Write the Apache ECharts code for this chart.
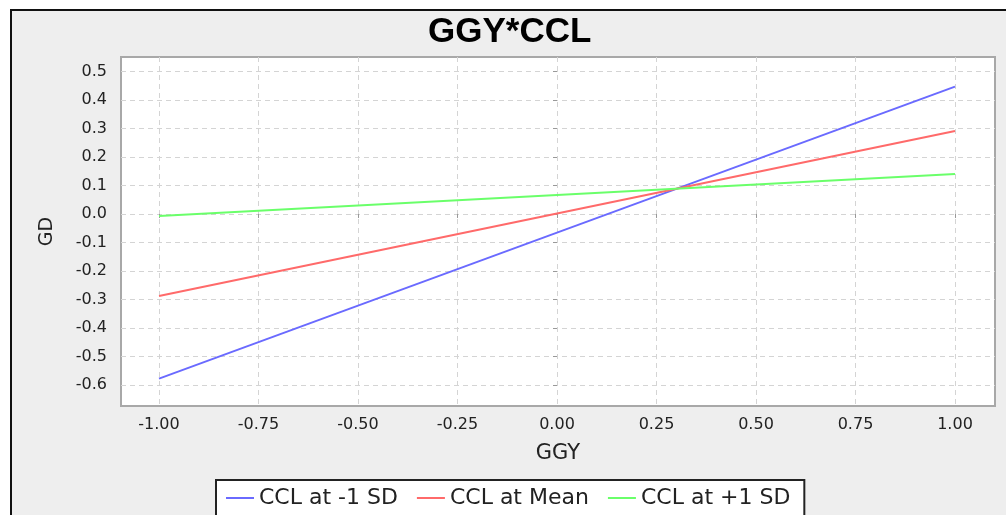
<!DOCTYPE html>
<html>
<head>
<meta charset="utf-8">
<script src="https://cdn.jsdelivr.net/npm/echarts@6/dist/echarts.min.js"></script>
<style>
  html, body { margin: 0; padding: 0; background: #fff; }
  #chart { width: 1006px; height: 515px; }
</style>
</head>
<body>
<div id="chart"></div>
<script>
// data
var ggy = [-1.0, 1.0]
var cclLow = [-0.578, 0.447]   // CCL at -1 SD
var cclMean = [-0.288, 0.291]  // CCL at Mean
var cclHigh = [-0.007, 0.140]  // CCL at +1 SD
var xTicks = [-1.0, -0.75, -0.5, -0.25, 0, 0.25, 0.5, 0.75, 1.0]
var yTicks = [-0.6, -0.5, -0.4, -0.3, -0.2, -0.1, 0, 0.1, 0.2, 0.3, 0.4, 0.5]
var seriesNames = ['CCL at -1 SD', 'CCL at Mean', 'CCL at +1 SD']

var chart = echarts.init(document.getElementById('chart'))

var smallFont = 'DejaVu Sans'
var gridLine = { show: true, lineStyle: { color: '#d4d4d4', type: [5, 4], width: 1 } }

function lineSeries (name, values, color) {
  return {
    name: name,
    type: 'line',
    showSymbol: false,
    smooth: false,
    lineStyle: { color: color, width: 2 },
    itemStyle: { color: color },
    data: ggy.map(function (x, i) { return [x, values[i]] })
  }
}

var option = {
  backgroundColor: '#fff',
  animation: false,
  graphic: [{
    type: 'rect',
    z: -10,
    silent: true,
    shape: { x: 11, y: 10, width: 1100, height: 600 },
    style: { fill: '#eeeeee', stroke: '#111', lineWidth: 2 }
  }],
  title: {
    text: 'GGY*CCL',
    left: 428,
    top: 15,
    padding: 0,
    textStyle: { fontFamily: 'Liberation Sans', fontWeight: 'bold', fontSize: 35, color: '#000' }
  },
  grid: {
    left: 121,
    right: 11,
    top: 57,
    bottom: 109,
    show: true,
    backgroundColor: '#fff',
    borderColor: '#a8a8a8',
    borderWidth: 2,
    outerBoundsMode: 'none'
  },
  legend: {
    data: seriesNames,
    left: 216,
    top: 480,
    padding: [7, 14, 30, 10],
    backgroundColor: '#fff',
    borderColor: '#222',
    borderWidth: 2,
    borderRadius: 0,
    icon: 'rect',
    itemWidth: 28,
    itemHeight: 2,
    itemGap: 19,
    textStyle: { fontFamily: smallFont, fontSize: 22, color: '#222' }
  },
  xAxis: {
    type: 'value',
    min: -1.0955,
    max: 1.1005,
    name: 'GGY',
    nameLocation: 'middle',
    nameGap: 37,
    nameTextStyle: { fontFamily: smallFont, fontSize: 21, color: '#222' },
    axisLine: { show: false },
    axisTick: { show: true, length: 4, customValues: xTicks, lineStyle: { color: '#999' } },
    axisLabel: {
      customValues: xTicks,
      margin: 11,
      fontFamily: smallFont,
      fontSize: 16,
      color: '#222',
      formatter: function (v) { return v.toFixed(2) }
    },
    splitLine: gridLine
  },
  yAxis: {
    type: 'value',
    min: -0.674,
    max: 0.551,
    name: 'GD',
    nameLocation: 'middle',
    nameGap: 64,
    nameTextStyle: { fontFamily: smallFont, fontSize: 19, color: '#222' },
    axisLine: { show: false },
    axisTick: { show: true, length: 4, customValues: yTicks, lineStyle: { color: '#999' } },
    axisLabel: {
      customValues: yTicks,
      margin: 14,
      fontFamily: smallFont,
      fontSize: 16,
      color: '#222',
      formatter: function (v) { return v.toFixed(1) }
    },
    splitLine: gridLine
  },
  series: [
    lineSeries(seriesNames[0], cclLow, '#6a6aff'),
    lineSeries(seriesNames[1], cclMean, '#ff6a6a'),
    lineSeries(seriesNames[2], cclHigh, '#6aff6a')
  ]
}

chart.setOption(option)
</script>
</body>
</html>
